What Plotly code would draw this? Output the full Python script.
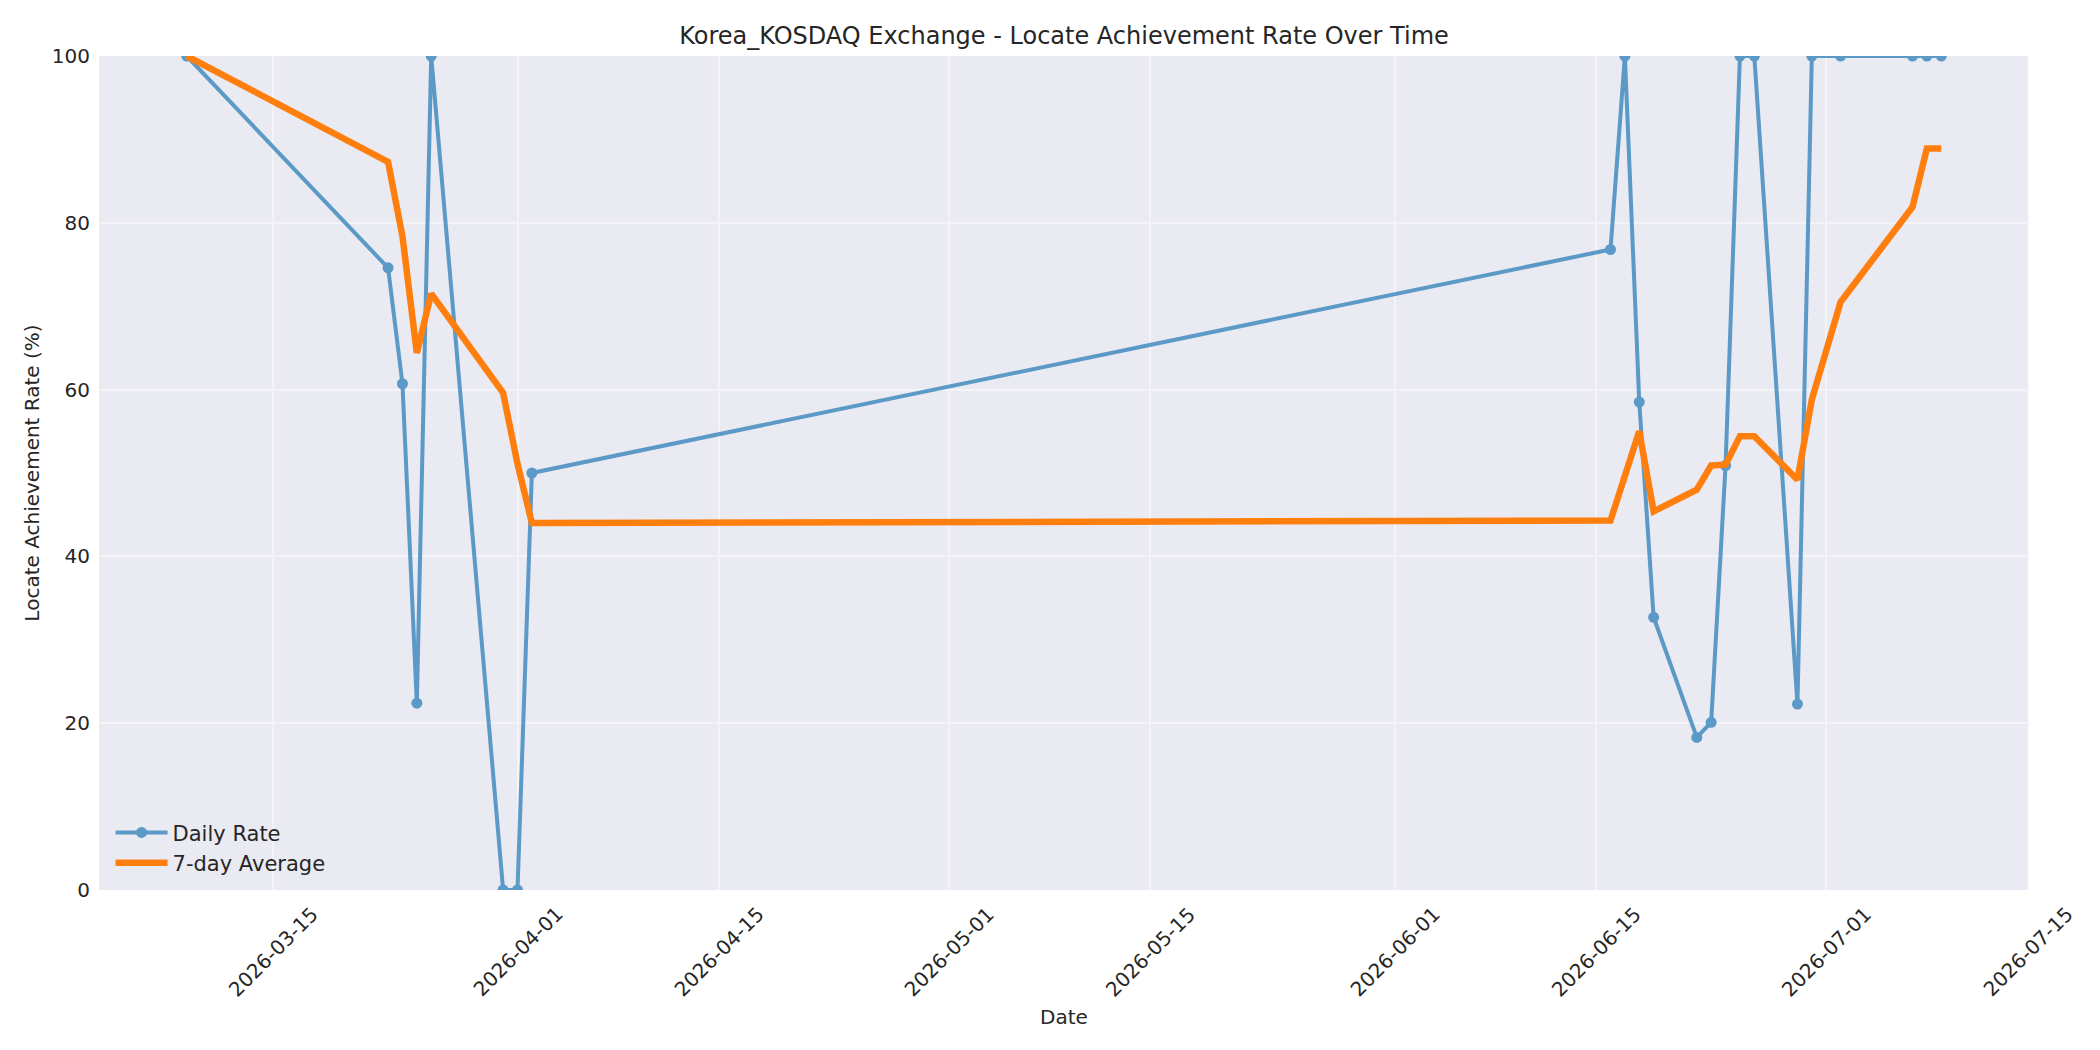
import plotly.graph_objects as go

dates = ["2026-03-09", "2026-03-23", "2026-03-24", "2026-03-25", "2026-03-26",
         "2026-03-31", "2026-04-01", "2026-04-02", "2026-06-16", "2026-06-17",
         "2026-06-18", "2026-06-19", "2026-06-22", "2026-06-23", "2026-06-24",
         "2026-06-25", "2026-06-26", "2026-06-29", "2026-06-30", "2026-07-02",
         "2026-07-07", "2026-07-08", "2026-07-09"]
daily_rate = [100, 74.6, 60.7, 22.4, 100, 0, 0, 50.0, 76.8, 100,
              58.5, 32.7, 18.3, 20.1, 50.9, 100, 100, 22.3, 100, 100,
              100, 100, 100]
avg_7day = [100, 87.3, 78.4, 64.4, 71.5, 59.6, 51.1, 44.0, 44.3, 49.9,
            55.0, 45.4, 48.0, 50.9, 51.0, 54.4, 54.4, 49.2, 58.8, 70.5,
            81.9, 88.9, 88.9]
tick_dates = ["2026-03-15", "2026-04-01", "2026-04-15", "2026-05-01", "2026-05-15",
              "2026-06-01", "2026-06-15", "2026-07-01", "2026-07-15"]

txt = "#262626"
font = "DejaVu Sans"
grid = "#F4F4F8"

fig = go.Figure()
fig.add_trace(go.Scatter(
    x=dates, y=daily_rate, mode="lines+markers", name="Daily Rate",
    line=dict(color="#1f77b4", width=4), marker=dict(color="#1f77b4", size=11),
    opacity=0.7,
))
fig.add_trace(go.Scatter(
    x=dates, y=avg_7day, mode="lines", name="7-day Average",
    line=dict(color="#ff7f0e", width=6.5),
))

# rotated date labels, centred under each tick like matplotlib
for d in tick_dates:
    fig.add_annotation(x=d, y=-0.074, xref="x", yref="paper", text=d,
                       textangle=-45, showarrow=False, xanchor="center",
                       yanchor="middle", font=dict(size=20, color=txt, family=font))

fig.update_layout(
    width=2100, height=1050,
    margin=dict(l=91, r=79, t=48, b=168),
    paper_bgcolor="white", plot_bgcolor="#EAEAF2",
    font=dict(family=font, size=20, color=txt),
    title=dict(text="Korea_KOSDAQ Exchange - Locate Achievement Rate Over Time",
               x=0.5, xref="paper", xanchor="center", y=1 - 28 / 1050, yanchor="middle",
               font=dict(size=24, color=txt)),
    showlegend=True,
    legend=dict(x=0.006, y=0.008, xanchor="left", yanchor="bottom",
                bgcolor="rgba(0,0,0,0)", font=dict(size=21, color=txt),
                itemwidth=52, tracegroupgap=0),
)
fig.update_xaxes(
    type="date", range=["2026-03-02 21:36", "2026-07-15 02:24"],
    tickvals=tick_dates, showticklabels=False,
    showgrid=True, gridcolor=grid, gridwidth=1.5, zeroline=False,
    title=dict(text="Date", font=dict(size=20, color=txt), standoff=119),
)
fig.update_yaxes(
    range=[0, 100], tickvals=[0, 20, 40, 60, 80, 100],
    showgrid=True, gridcolor=grid, gridwidth=1.5, zeroline=False,
    ticks="", ticklabelstandoff=8,
    title=dict(text="Locate Achievement Rate (%)", font=dict(size=20, color=txt), standoff=6),
)

fig.write_html("out.html")
